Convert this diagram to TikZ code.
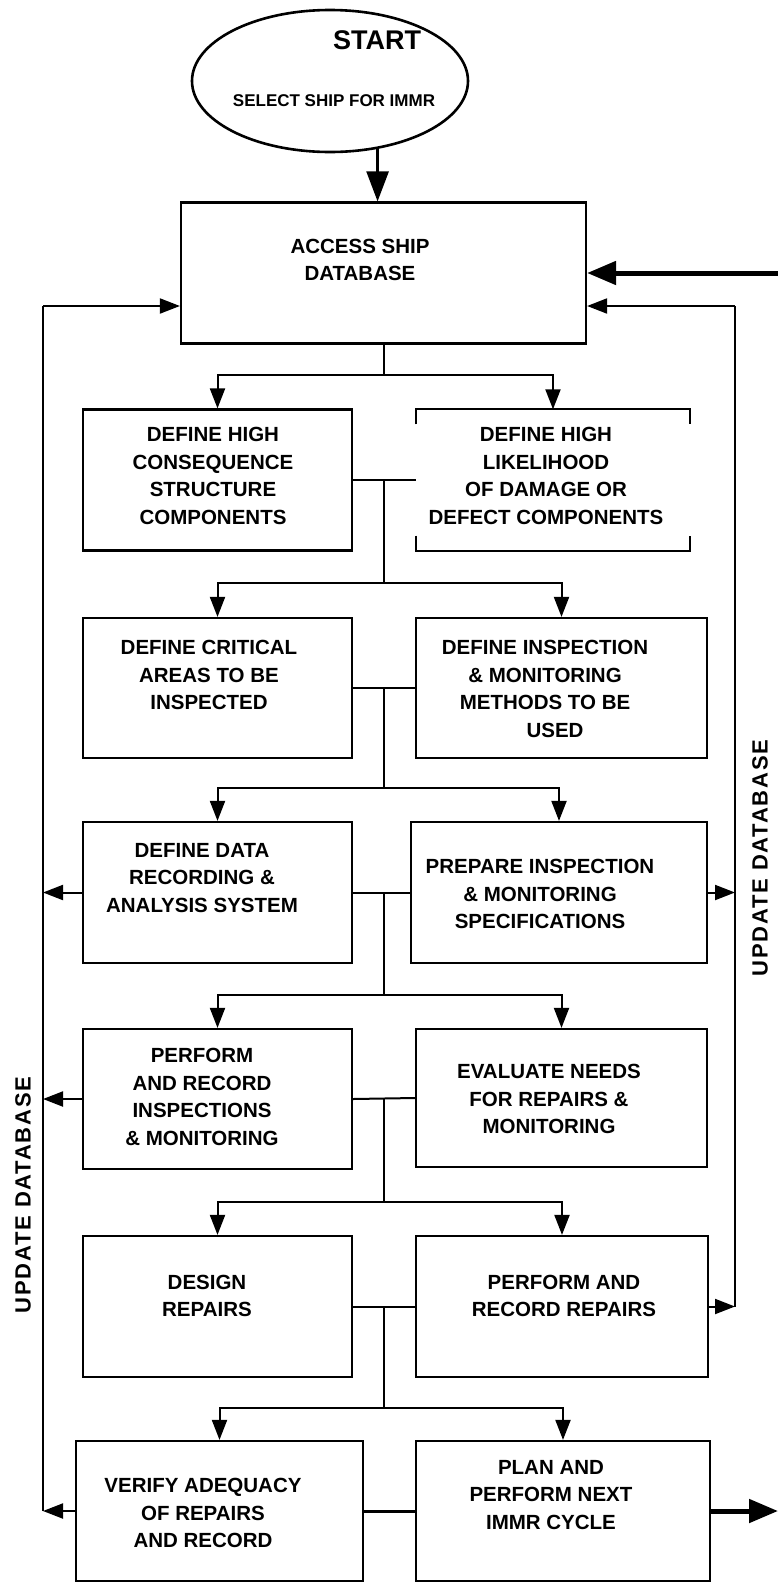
\documentclass[tikz,border=0pt]{standalone}
\usepackage{fontspec}
\setmainfont{Liberation Sans}
\usetikzlibrary{arrows.meta,shapes.geometric}
\begin{document}
\begin{tikzpicture}[x=1pt,y=-1pt,
  box/.style={draw,line width=2.2pt,minimum width=#1,minimum height=141pt,inner sep=0pt,anchor=center},
  openbox/.style={minimum width=#1,minimum height=141pt,inner sep=0pt,anchor=center},
  txt/.style={font=\fontsize{20.5}{27.5}\selectfont\bfseries,align=center,inner sep=0pt},
  ln/.style={line width=2pt},
  arr/.style={line width=2pt,-{Triangle[length=20pt,width=15pt]}},
  bigarr/.style={line width=2.5pt,-{Triangle[length=30pt,width=22pt]}},
  fatarr/.style={line width=5pt,-{Triangle[length=29pt,width=23pt]}},
  side/.style={font=\fontsize{22}{24}\selectfont\bfseries\addfontfeature{LetterSpace=8},rotate=90,inner sep=0pt}
]
\useasboundingbox[fill=white] (0,0) rectangle (778,1585);

% start ellipse
\node[ellipse,draw,line width=2.6pt,minimum width=276pt,minimum height=142pt,inner sep=0pt] (start) at (330,81) {};
\node[font=\fontsize{27}{30}\selectfont\bfseries,inner sep=0pt] (tstart) at (377,40) {START};
\node[font=\fontsize{17}{20}\selectfont\bfseries,inner sep=0pt] (tsel) at (334,101) {SELECT SHIP FOR IMMR};

% boxes
\node[box=405] (b1) at (383.5,273) {};
\node[txt] (t1) at (360,260) {ACCESS SHIP\\DATABASE};

\node[box=269] (b2a) at (217.5,480) {};
\node[openbox=274] (b2b) at (553,480) {};
\draw[line width=2.2pt] ([yshift=-15pt]b2b.north west) -- (b2b.north west) -- (b2b.north east) -- ([yshift=-15pt]b2b.north east);
\draw[line width=2.2pt] ([yshift=15pt]b2b.south west) -- (b2b.south west) -- (b2b.south east) -- ([yshift=15pt]b2b.south east);
\node[txt] (t2a) at (213,476) {DEFINE HIGH\\CONSEQUENCE\\STRUCTURE\\COMPONENTS};
\node[txt] (t2b) at (546,476) {DEFINE HIGH\\LIKELIHOOD\\OF DAMAGE OR\\DEFECT COMPONENTS};

\node[box=269,minimum height=140pt] (b3a) at (217.5,688) {};
\node[box=291,minimum height=140pt] (b3b) at (561.5,688) {};
\node[txt] (t3a) at (209,675) {DEFINE CRITICAL\\AREAS TO BE\\INSPECTED};
\node[txt] (t3b) at (545,689) {DEFINE INSPECTION\\\& MONITORING\\METHODS TO BE\\\hspace*{20pt}USED};

\node[box=269] (b4a) at (217.5,892.5) {};
\node[box=296] (b4b) at (559,892.5) {};
\node[txt] (t4a) at (202,878) {DEFINE DATA\\RECORDING \&\\ANALYSIS SYSTEM};
\node[txt] (t4b) at (540,894) {PREPARE INSPECTION\\\& MONITORING\\SPECIFICATIONS};

\node[box=269,minimum height=140pt] (b5a) at (217.5,1099) {};
\node[box=291,minimum height=138pt] (b5b) at (561.5,1098) {};
\node[txt] (t5a) at (202,1097) {PERFORM\\AND RECORD\\INSPECTIONS\\\& MONITORING};
\node[txt] (t5b) at (549,1099) {EVALUATE NEEDS\\FOR REPAIRS \&\\MONITORING};

\node[box=269] (b6a) at (217.5,1306.5) {};
\node[box=292] (b6b) at (562,1306.5) {};
\node[txt] (t6a) at (207,1296) {DESIGN\\REPAIRS};
\node[txt] (t6b) at (564,1296) {PERFORM AND\\RECORD REPAIRS};

\node[box=287,minimum height=140pt] (b7a) at (219.5,1511) {};
\node[box=294,minimum height=140pt] (b7b) at (563,1511) {};
\node[txt] (t7a) at (203,1513) {VERIFY ADEQUACY\\OF REPAIRS\\AND RECORD};
\node[txt] (t7b) at (551,1495) {PLAN AND\\PERFORM NEXT\\IMMR CYCLE};

% side labels
\node[side] (lr) at (760,858) {UPDATE DATABASE};
\node[side] (ll) at (23,1195) {UPDATE DATABASE};

% junctions
\coordinate (j1) at (383.5,375);
\coordinate (j2) at (383.5,583);
\coordinate (j3) at (383.5,788);
\coordinate (j4) at (383.5,995);
\coordinate (j5) at (383.5,1202);
\coordinate (j6) at (383.5,1408);
\coordinate (L1) at (43,306);
\coordinate (R1) at (735,306);
\coordinate (inR) at (778,273);
\coordinate (outR) at (778,1511);

% start arrow
\draw[bigarr] (start.-55) -- (start.-55 |- b1.north);

% tree
\draw[ln] (b1.south) -- (j1);
\draw[arr] (j1) -| (b2a.north);
\draw[arr] (j1) -| (b2b.north);
\draw[ln] (b2a.east) -- (b2b.west);
\draw[ln] (b2a.east -| j1) -- (j2);
\draw[arr] (j2) -| (b3a.north);
\draw[arr] (j2) -| (b3b.north);
\draw[ln] (b3a.east) -- (b3b.west);
\draw[ln] (b3a.east -| j2) -- (j3);
\draw[arr] (j3) -| (b4a.north);
\draw[arr] (j3) -| (b4b.north);
\draw[ln] (b4a.east) -- (b4b.west);
\draw[ln] (b4a.east -| j3) -- (j4);
\draw[arr] (j4) -| (b5a.north);
\draw[arr] (j4) -| (b5b.north);
\draw[ln] (b5a.east) -- (b5b.west);
\draw[ln] (b5a.east -| j4) -- (j5);
\draw[arr] (j5) -| (b6a.north);
\draw[arr] (j5) -| (b6b.north);
\draw[ln] (b6a.east) -- (b6b.west);
\draw[ln] (b6a.east -| j5) -- (j6);
\draw[arr] (j6) -| (b7a.north);
\draw[arr] (j6) -| (b7b.north);
\draw[line width=3pt] (b7a.east) -- (b7b.west);

% left update loop
\draw[ln] (b7a.west -| L1) -- (L1);
\draw[arr] (L1) -- (L1 -| b1.west);
\draw[arr] (b4a.west) -- (b4a.west -| L1);
\draw[arr] (b5a.west) -- (b5a.west -| L1);
\draw[arr] (b7a.west) -- (b7a.west -| L1);

% right update loop
\draw[ln] (b6b.east -| R1) -- (R1);
\draw[arr] (R1) -- (R1 -| b1.east);
\draw[arr] (b4b.east) -- (b4b.east -| R1);
\draw[arr] (b6b.east) -- (b6b.east -| R1);

% external
\draw[fatarr] (inR) -- (inR -| b1.east);
\draw[fatarr] (b7b.east) -- (outR);
\end{tikzpicture}
\end{document}
